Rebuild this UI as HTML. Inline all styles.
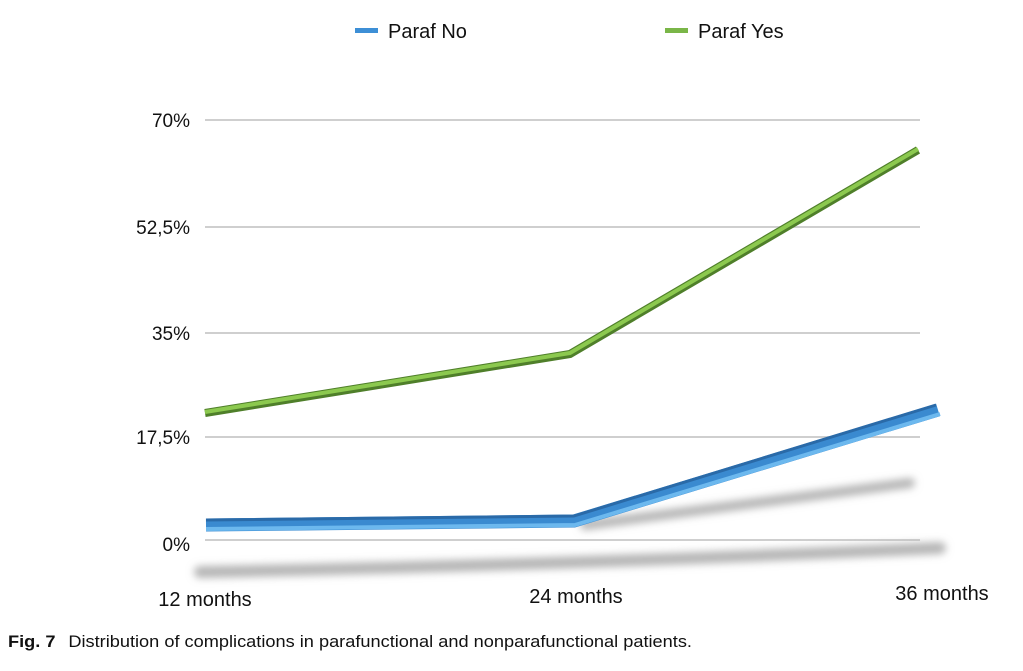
<!DOCTYPE html>
<html><head><meta charset="utf-8"><style>
body{margin:0;background:#fff;width:1023px;height:666px;overflow:hidden;font-family:"Liberation Sans",sans-serif}
</style></head><body>
<svg width="1023" height="666" xmlns="http://www.w3.org/2000/svg">
<defs>
<filter id="b" x="-10%" y="-200%" width="120%" height="500%"><feGaussianBlur stdDeviation="4"/></filter>
</defs>
<g font-size="20" fill="#111">
<rect x="355" y="28" width="23" height="5" fill="#3d8fd6"/><text x="388" y="38">Paraf No</text>
<rect x="665" y="28" width="23" height="5" fill="#7ab648"/><text x="698" y="38">Paraf Yes</text>
</g>
<g stroke="#cfcfcf" stroke-width="2">
<line x1="205" y1="120" x2="920" y2="120"/>
<line x1="205" y1="227" x2="920" y2="227"/>
<line x1="205" y1="333" x2="920" y2="333"/>
<line x1="205" y1="437" x2="920" y2="437"/>
<line x1="205" y1="540" x2="920" y2="540"/>
</g>
<g font-size="19" fill="#111" text-anchor="end">
<text x="190" y="127">70%</text>
<text x="190" y="234">52,5%</text>
<text x="190" y="340">35%</text>
<text x="190" y="444">17,5%</text>
<text x="190" y="551">0%</text>
</g>
<path d="M200 572 Q560 565 940 548" stroke="#b5b5b5" stroke-width="12" fill="none" filter="url(#b)" stroke-linecap="round"/>
<path d="M585 525 L910 483" stroke="#b5b5b5" stroke-width="10" fill="none" filter="url(#b)" stroke-linecap="round"/>
<polyline points="205,413 570,354 918,150" stroke="#4f7f2a" stroke-width="8" fill="none" stroke-linejoin="round"/>
<polyline points="205,412 570,353 918,149" stroke="#8cc94f" stroke-width="4" fill="none" stroke-linejoin="round"/>
<polyline points="206,525 574,521 938,410" stroke="#3a8ad0" stroke-width="13" fill="none" stroke-linejoin="round"/>
<polyline points="206,529 575,525 940,414" stroke="#6cb8ee" stroke-width="4" fill="none" stroke-linejoin="round"/>
<polyline points="206,520 574,516 936,405" stroke="#2a6aa8" stroke-width="3" fill="none" stroke-linejoin="round"/>
<g font-size="20" fill="#111" text-anchor="middle">
<text x="205" y="606">12 months</text>
<text x="576" y="603">24 months</text>
<text x="942" y="600">36 months</text>
</g>
<text x="8" y="647" font-size="17" fill="#111" textLength="684" lengthAdjust="spacingAndGlyphs"><tspan font-weight="bold">Fig. 7</tspan><tspan dx="12">Distribution of complications in parafunctional and nonparafunctional patients.</tspan></text>
</svg>
</body></html>
